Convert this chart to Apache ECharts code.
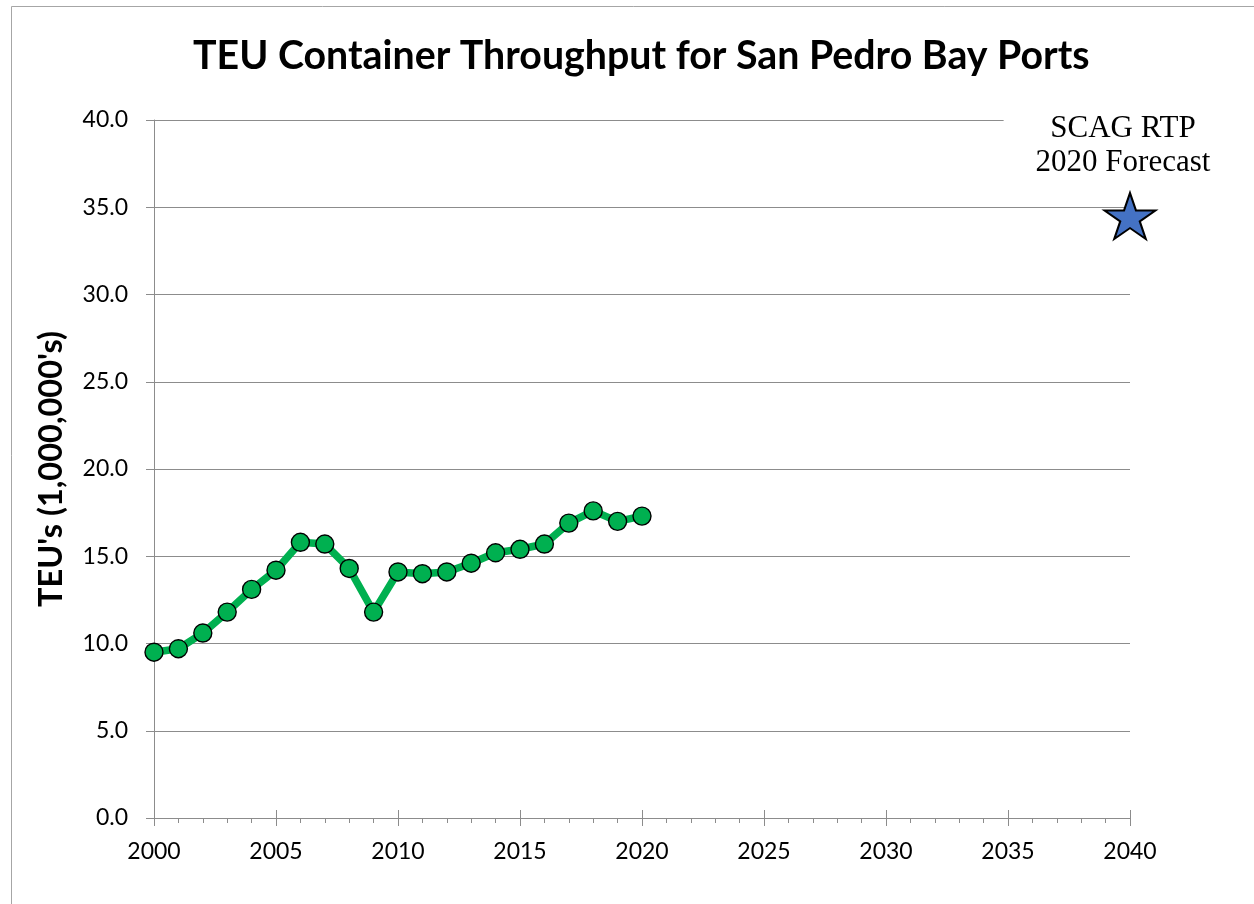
<!DOCTYPE html>
<html><head><meta charset="utf-8">
<script src="https://cdn.jsdelivr.net/npm/echarts@6/dist/echarts.min.js"></script>
<style>html,body{margin:0;padding:0;background:#fff}#c{width:1254px;height:904px}</style>
</head><body><div id="c"></div>
<script>
const years = [2000,2001,2002,2003,2004,2005,2006,2007,2008,2009,2010,2011,2012,2013,2014,2015,2016,2017,2018,2019,2020];
const teu = [9.5,9.7,10.6,11.8,13.1,14.2,15.8,15.7,14.3,11.8,14.1,14.0,14.1,14.6,15.2,15.4,15.7,16.9,17.6,17.0,17.3];
const forecastYear = [2040];
const forecastValue = [34.5];
const forecastLabel = 'SCAG RTP\n2020 Forecast';
const titleText = 'TEU Container Throughput for San Pedro Bay Ports';
const yName = "TEU's (1,000,000's)";

const star = 'path://M50,0 L61.2,34.5 L97.6,34.5 L68.2,55.9 L79.4,90.5 L50,69.1 L20.6,90.5 L31.8,55.9 L2.4,34.5 L38.8,34.5 Z';
const font = 'Lato, "Open Sans", sans-serif';
const chart = echarts.init(document.getElementById('c'));
chart.setOption({
  animation: false,
  backgroundColor: '#fff',
  title: {text: titleText, left: 188, top: 32, textStyle: {fontFamily: font, fontSize: 39.3, fontWeight: 'bold', color: '#000'}},
  graphic: [{type: 'rect', shape: {x: 11.5, y: 6.5, width: 1400, height: 1000}, style: {fill: 'none', stroke: '#a6a6a6', lineWidth: 1}, z: 100}],
  grid: {left: 154, right: 124, top: 120, bottom: 86},
  xAxis: [{
    type: 'value', min: 2000, max: 2040, interval: 5,
    axisLine: {show: true, lineStyle: {color: '#8c8c8c', width: 1}},
    axisTick: {show: true, length: 8, lineStyle: {color: '#8c8c8c'}},
    minorTick: {show: true, splitNumber: 5, length: 5, lineStyle: {color: '#8c8c8c'}},
    splitLine: {show: false},
    axisLabel: {fontFamily: font, fontSize: 23, color: '#000', margin: 22, formatter: v => String(v)}
  }, {
    type: 'value', min: 2000, max: 2040, interval: 5, position: 'bottom',
    axisLine: {show: false},
    axisTick: {show: true, inside: true, length: 8, lineStyle: {color: '#8c8c8c'}},
    axisLabel: {show: false}, splitLine: {show: false}
  }],
  yAxis: {
    type: 'value', min: 0, max: 40, interval: 5,
    name: yName, nameLocation: 'middle', nameGap: 86,
    nameTextStyle: {fontFamily: font, fontSize: 32.5, fontWeight: 'bold', color: '#000'},
    axisLine: {show: true, lineStyle: {color: '#8c8c8c', width: 1}},
    axisTick: {show: true, length: 8, lineStyle: {color: '#8c8c8c'}},
    splitLine: {show: true, lineStyle: {color: '#8c8c8c', width: 1}},
    axisLabel: {fontFamily: font, fontSize: 23, color: '#000', margin: 26, formatter: v => v.toFixed(1)}
  },
  series: [{
    type: 'line', data: years.map((y, i) => [y, teu[i]]),
    lineStyle: {color: '#00b050', width: 7.5},
    symbol: 'circle', symbolSize: 18,
    itemStyle: {color: '#00b050', borderColor: '#000', borderWidth: 1.4},
    z: 5
  }, {
    type: 'scatter', data: forecastYear.map((y, i) => [y, forecastValue[i]]),
    symbol: star, symbolSize: [51, 46], symbolKeepAspect: false,
    itemStyle: {color: '#4472c4', borderColor: '#000', borderWidth: 2, opacity: 1},
    label: {show: true, position: 'top', distance: 10, offset: [-7, 0], formatter: forecastLabel,
      fontFamily: '"Liberation Serif", "DejaVu Serif", serif', fontSize: 31, lineHeight: 34, color: '#000', align: 'center',
      backgroundColor: '#fff', padding: [6, 32, 2, 32], opacity: 1},
    z: 6
  }]
});
</script></body></html>
